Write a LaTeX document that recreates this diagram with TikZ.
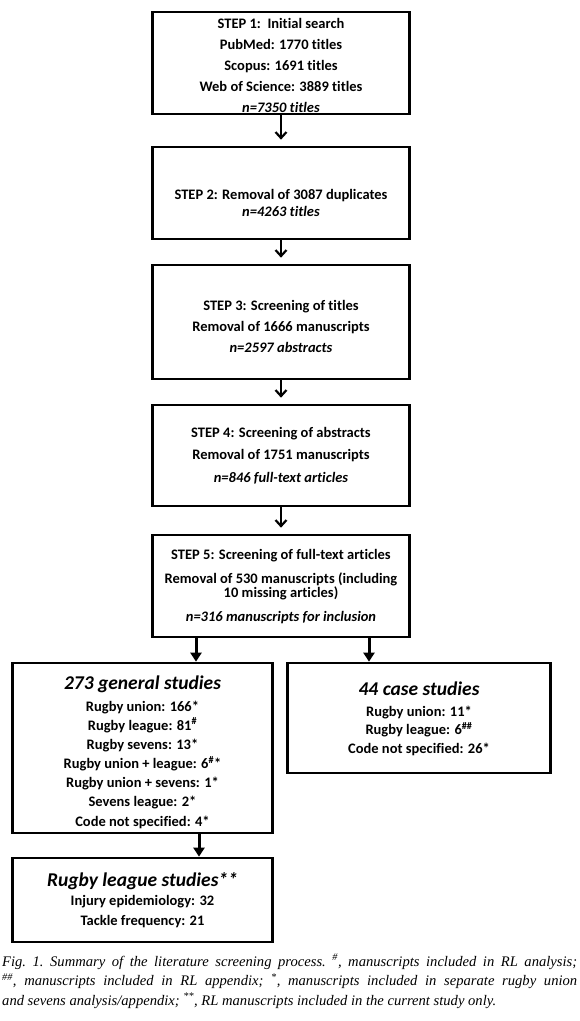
\documentclass[tikz,border=0pt]{standalone}
\usepackage{fontspec}
\setmainfont{Carlito}[Ligatures=NoCommon]
\newfontfamily\capfont{Liberation Serif}
\usetikzlibrary{arrows.meta}
\begin{document}
\begin{tikzpicture}[x=1pt,y=1pt,
  box/.style={draw, line width=2.7pt, inner sep=0pt},
  steptxt/.style={font=\fontsize{14.5}{21}\selectfont\bfseries, align=center, inner sep=0pt},
  bodytxt/.style={font=\fontsize{14.5}{19.2}\selectfont\bfseries, align=center, inner sep=0pt},
  headtxt/.style={font=\fontsize{19.5}{21}\selectfont\bfseries\itshape, inner sep=0pt},
  steparrow/.style={line width=2pt, -{Straight Barb[length=6pt,width=11pt,line width=2.2pt]}, shorten >=6pt},
  bigarrow/.style={line width=3pt, -{Triangle[length=9pt,width=11pt]}},
]
\useasboundingbox (0,0) rectangle (580,-1021);

% step boxes
\node[box, minimum width=257pt, minimum height=102pt] (s1) at (281,-63) {};
\node[box, minimum width=257pt, minimum height=92pt] (s2) at (281,-193) {};
\node[box, minimum width=257pt, minimum height=114pt] (s3) at (281,-322) {};
\node[box, minimum width=257pt, minimum height=101pt] (s4) at (281,-455.5) {};
\node[box, minimum width=257pt, minimum height=102pt] (s5) at (281,-586) {};

\node[steptxt] (t1) at (281,-65) {STEP 1:\ \ Initial search\\PubMed: 1770 titles\\Scopus: 1691 titles\\Web of Science: 3889 titles\\\textit{n=7350 titles}};
\node[steptxt, font=\fontsize{14.5}{16.5}\selectfont\bfseries] (t2) at (281,-203) {STEP 2: Removal of 3087 duplicates\\\textit{n=4263 titles}};
\node[steptxt] (t3) at (281,-326) {STEP 3: Screening of titles\\Removal of 1666 manuscripts\\\textit{n=2597 abstracts}};
\node[steptxt, font=\fontsize{14.5}{22.5}\selectfont\bfseries] (t4) at (281,-455.5) {STEP 4: Screening of abstracts\\Removal of 1751 manuscripts\\\textit{n=846 full-text articles}};
\node[steptxt, font=\fontsize{14.5}{14}\selectfont\bfseries] (t5) at (281,-586.5) {STEP 5: Screening of full-text articles\\[10pt]Removal of 530 manuscripts (including\\10 missing articles)\\[10pt]\textit{n=316 manuscripts for inclusion}};

% lower boxes
\node[box, minimum width=260pt, minimum height=170pt] (g) at (142.5,-748) {};
\node[box, minimum width=263pt, minimum height=110pt] (c) at (419,-718) {};
\node[box, minimum width=260pt, minimum height=84pt] (rl) at (142.5,-900) {};

\node[headtxt] (gh) at (142.5,-684) {273 general studies};
\node[bodytxt, font=\fontsize{14.5}{19.17}\selectfont\bfseries] (gb) at (142.5,-764.5) {Rugby union: 166*\\Rugby league: 81\textsuperscript{\#}\\Rugby sevens: 13*\\Rugby union + league: 6\textsuperscript{\#}*\\Rugby union + sevens: 1*\\Sevens league: 2*\\Code not specified: 4*};
\node[headtxt] (ch) at (419,-689) {44 case studies};
\node[bodytxt, font=\fontsize{14.5}{18.5}\selectfont\bfseries] (cb) at (419,-730.5) {Rugby union: 11*\\Rugby league: 6\textsuperscript{\#\#}\\Code not specified: 26*};
\node[headtxt] (rh) at (142.5,-881) {Rugby league studies**};
\node[bodytxt, font=\fontsize{14.5}{20}\selectfont\bfseries] (rb) at (142.5,-912) {Injury epidemiology: 32\\Tackle frequency: 21};

% arrows
\draw[steparrow] (s1.south) -- (s2.north);
\draw[steparrow] (s2.south) -- (s3.north);
\draw[steparrow] (s3.south) -- (s4.north);
\draw[steparrow] (s4.south) -- (s5.north);
\draw[bigarrow] ([xshift=-85pt]s5.south) -- ([xshift=-85pt]s5.south |- g.north);
\draw[bigarrow] ([xshift=88pt]s5.south) -- ([xshift=88pt]s5.south |- c.north);
\draw[bigarrow] ([xshift=56.5pt]g.south) -- ([xshift=56.5pt]g.south |- rl.north);

% caption
\node[anchor=north west, inner sep=0pt, text width=575pt, align=justify,
  font=\capfont\fontsize{14.6}{19.5}\selectfont\itshape] (cap) at (2,-954)
  {\frenchspacing\spaceskip=0.25em plus 0.4em minus 0.12em
  Fig. 1. Summary of the literature screening process. \textsuperscript{\#}, manuscripts included in RL analysis;\linebreak
  \textsuperscript{\#\#}, manuscripts included in RL appendix; \textsuperscript{*}, manuscripts included in separate rugby union\linebreak
  and sevens analysis/appendix; \textsuperscript{**}, RL manuscripts included in the current study only.\par};
\end{tikzpicture}
\end{document}
